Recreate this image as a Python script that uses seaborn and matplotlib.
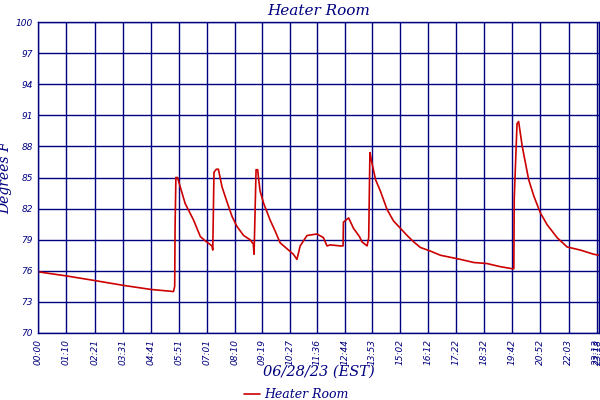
import matplotlib
matplotlib.use("Agg")
import matplotlib.pyplot as plt
import seaborn as sns
import pandas as pd

# minutes since midnight, 06/28/23
minutes = [0, 35, 71, 142, 211, 281, 337, 340, 341, 343, 347, 366, 387, 404, 416, 433, 435,
           438, 444, 449, 458, 470, 483, 495, 512, 528, 536, 538, 543, 547, 549, 553, 562,
           578, 591, 603, 624, 636, 645, 653, 670, 686, 695, 711, 720, 728, 753, 760, 761,
           774, 786, 801, 807, 820, 824, 827, 830, 841, 853, 870, 886, 903, 920, 936, 953,
           978, 1003, 1028, 1053, 1086, 1119, 1152, 1182, 1186, 1187, 1194, 1198, 1207,
           1215, 1223, 1236, 1252, 1269, 1294, 1319, 1352, 1385, 1398]
temps = [75.9, 75.7, 75.5, 75.05, 74.6, 74.2, 74.0, 74.5, 80.3, 85.0, 85.0, 82.5, 80.9, 79.3,
         78.9, 78.4, 78.0, 85.5, 85.8, 85.8, 84.1, 82.7, 81.25, 80.3, 79.4, 79.0, 78.6, 77.6,
         85.75, 85.75, 85.0, 83.7, 82.5, 80.9, 79.8, 78.7, 78.0, 77.6, 77.1, 78.4, 79.4, 79.5,
         79.55, 79.2, 78.4, 78.5, 78.4, 78.4, 80.7, 81.1, 80.1, 79.3, 78.8, 78.4, 79.2, 87.4,
         86.8, 84.8, 83.7, 81.9, 80.8, 80.1, 79.4, 78.8, 78.25, 77.9, 77.5, 77.3, 77.1, 76.8,
         76.7, 76.4, 76.2, 76.2, 82.9, 90.2, 90.4, 88.0, 86.4, 84.8, 83.2, 81.6, 80.45, 79.2,
         78.3, 78.0, 77.6, 77.5]

tick_labels = ["00:00", "01:10", "02:21", "03:31", "04:41", "05:51", "07:01", "08:10",
               "09:19", "10:27", "11:36", "12:44", "13:53", "15:02", "16:12", "17:22",
               "18:32", "19:42", "20:52", "22:03", "23:13", "23:18"]
y_ticks = [70, 73, 76, 79, 82, 85, 88, 91, 94, 97, 100]

navy = "#000080"
red = "#cc0000"

df = pd.DataFrame({"minute": minutes, "Heater Room": temps})

sns.set_theme(style="white")
plt.rcParams["font.family"] = ["DejaVu Sans"]

fig = plt.figure(figsize=(6, 4), dpi=100)
ax = fig.add_axes([0.064, 0.1675, 0.934, 0.7775])

sns.lineplot(data=df, x="minute", y="Heater Room", color=red, linewidth=1.2,
             label="Heater Room", ax=ax)

tick_pos = [int(s[:2]) * 60 + int(s[3:]) for s in tick_labels]
ax.set_xlim(0, minutes[-1])
ax.set_ylim(70, 100)
ax.set_xticks(tick_pos)
ax.set_xticklabels(tick_labels, rotation=90, fontsize=6.5, style="italic", color=navy)
ax.set_yticks(y_ticks)
ax.set_yticklabels([str(v) for v in y_ticks], fontsize=6.5, style="italic", color=navy)
ax.tick_params(axis="both", colors=navy, length=3, width=1, pad=1)
ax.grid(True, color=navy, linewidth=1)
for sp in ax.spines.values():
    sp.set_color(navy)
    sp.set_linewidth(1)

serif = {"family": "DejaVu Serif", "style": "italic", "color": navy}
ax.set_title("Heater Room", fontsize=11, pad=5, **serif)
ax.set_ylabel("Degrees F", fontsize=10, **serif)
ax.yaxis.set_label_coords(-0.046, 0.5)
ax.set_xlabel("06/28/23 (EST)", fontsize=10.5, labelpad=0, **serif)

leg = ax.legend(loc="upper center", bbox_to_anchor=(0.46, -0.15), frameon=False,
                handlelength=1.3, handletextpad=0.3, borderpad=0.2,
                prop={"family": "DejaVu Serif", "style": "italic", "size": 9})
for t in leg.get_texts():
    t.set_color(navy)

fig.savefig("out.png", dpi=100)
